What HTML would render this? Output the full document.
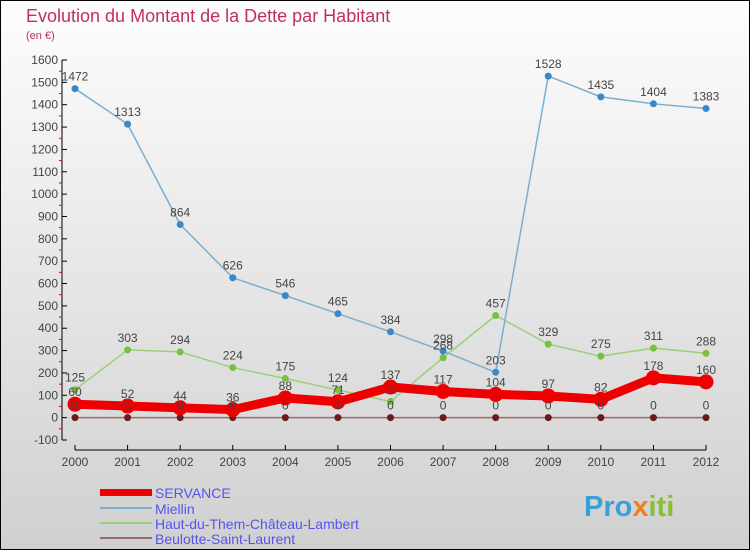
<!DOCTYPE html>
<html><head><meta charset="utf-8"><style>
body{margin:0}
#c{width:750px;height:550px;position:relative;overflow:hidden;font-family:"Liberation Sans",sans-serif}
</style></head><body>
<div id="c">
<svg id="s" width="750" height="550" xmlns="http://www.w3.org/2000/svg">
<defs><linearGradient id="bg" x1="0" y1="0" x2="0" y2="1"><stop offset="0" stop-color="#fdfdfd"/><stop offset="1" stop-color="#d0d0d0"/></linearGradient></defs>
<rect x="0.5" y="0.5" width="749" height="549" fill="url(#bg)" stroke="#000"/>
<text x="26" y="22" font-size="18" fill="#c0305a">Evolution du Montant de la Dette par Habitant</text>
<text x="26" y="39" font-size="11" fill="#c0305a">(en €)</text>
<g id="axes"></g><g id="series"></g><g id="labels"></g>
<g>
<rect x="100" y="489" width="52" height="7" fill="#e00"/>
<text x="155" y="498" font-size="14" fill="#5555ee">SERVANCE</text>
<rect x="100" y="507" width="52" height="2" fill="#7aaed0"/>
<text x="155" y="514" font-size="14" fill="#5555ee">Miellin</text>
<rect x="100" y="522" width="52" height="2" fill="#99d07a"/>
<text x="155" y="529" font-size="14" fill="#5555ee">Haut-du-Them-Château-Lambert</text>
<rect x="100" y="537" width="52" height="2" fill="#9a6a6a"/>
<text x="155" y="544" font-size="14" fill="#5555ee">Beulotte-Saint-Laurent</text>
</g>
<text x="584" y="516" font-size="29" font-weight="bold" fill="#3aa0d8">Pro<tspan fill="#f08020">x</tspan><tspan fill="#88c030">iti</tspan></text>
</svg>
</div>
<script>
const years=[2000,2001,2002,2003,2004,2005,2006,2007,2008,2009,2010,2011,2012];
const servance=[60,52,44,36,88,71,137,117,104,97,82,178,160];
const miellin=[1472,1313,864,626,546,465,384,298,203,1528,1435,1404,1383];
const haut=[125,303,294,224,175,124,72,268,457,329,275,311,288];
const beulotte=[0,0,0,0,0,0,0,0,0,0,0,0,0];
const yTicks=[-100,0,100,200,300,400,500,600,700,800,900,1000,1100,1200,1300,1400,1500,1600];
const NS="http://www.w3.org/2000/svg";
const X=i=>75+i*(706-75)/(years.length-1);
const Y=v=>440-(v+100)*(380/1700);
function mk(p,t,a){const e=document.createElementNS(NS,t);for(const k in a)e.setAttribute(k,a[k]);p.appendChild(e);return e;}
const ax=document.getElementById('axes'),sg=document.getElementById('series'),lg=document.getElementById('labels');
let yl=mk(ax,'line',{x1:62,y1:60,x2:62,y2:440,stroke:'#000'});


let xl=mk(ax,'line',{x1:75,y1:450,x2:706,y2:450,stroke:'#000'});


yTicks.forEach(v=>{
 mk(ax,'line',{x1:62,y1:Y(v),x2:67,y2:Y(v),stroke:'#000'});
 mk(ax,'line',{x1:59,y1:Y(v+50),x2:62,y2:Y(v+50),stroke:v<1600?'#e00':'none'});
 const t=mk(ax,'text',{x:58,y:Y(v)+4,'font-size':12,fill:'#444','text-anchor':'end'});t.textContent=v;
 
 
});
years.forEach((yr,i)=>{
 mk(ax,'line',{x1:X(i),y1:445,x2:X(i),y2:450,stroke:'#000'});
 const t=mk(ax,'text',{x:X(i),y:466,'font-size':12,fill:'#444','text-anchor':'middle'});t.textContent=yr;
 
 
});
function series(d,name,col,w,r,pc,lab){
 const pl=mk(sg,'polyline',{points:d.map((v,i)=>X(i)+','+Y(v)).join(' '),fill:'none',stroke:col,'stroke-width':w,'stroke-linejoin':'round'});
 
 
 d.forEach((v,i)=>{
  const c=mk(sg,'circle',{cx:X(i),cy:Y(v),r:r,fill:pc});
  
  
  if(lab){const t=mk(lg,'text',{x:X(i),y:Y(v)-8,'font-size':12,fill:'#444','text-anchor':'middle'});t.textContent=v;
  
  }
 });
}
series(beulotte,'beulotte','#9a6a6a',1.5,3.5,'#6a1a1a',true);
series(haut,'haut-du-them','#99d07a',1.5,3.5,'#77c040',true);
series(miellin,'miellin','#7aaed0',1.5,3.5,'#3a88c8',true);
series(servance,'servance','#e00',9,7.5,'#e00',true);
</script>
</body></html>
